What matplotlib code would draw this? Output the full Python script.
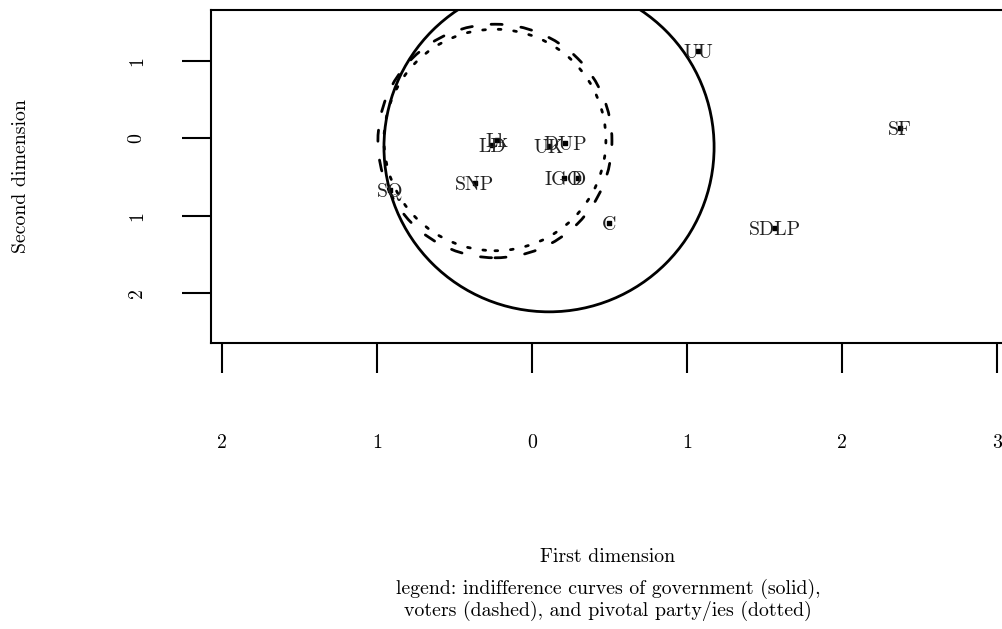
import numpy as np
import matplotlib
matplotlib.use("Agg")
import matplotlib.pyplot as plt
import matplotlib.transforms as mtransforms
from matplotlib.patches import Ellipse

plt.rcParams['font.family'] = ['cmr10', 'DejaVu Serif']
plt.rcParams['axes.formatter.use_mathtext'] = True

# party positions (first dim, second dim)
parties = ['UU', 'SF', 'SDLP', 'SNP', 'SQ', 'C', 'UK', 'DUP', 'LD', 'Lk', 'IGO', 'D']
dim1 = [1.071, 2.374, 1.568, -0.368, -0.916, 0.497, 0.110, 0.213, -0.258, -0.226, 0.206, 0.297]
dim2 = [1.129, 0.133, -1.160, -0.578, -0.669, -1.095, -0.100, -0.061, -0.087, -0.022, -0.514, -0.514]

# indifference curves: centre and radius (first-dimension units)
curve_names = ['government', 'voters', 'pivotal']
curve_cx = [0.110, -0.239, -0.239]
curve_cy = [-0.114, -0.035, -0.022]
curve_r = [1.065, 0.755, 0.716]
curve_style = ['-', (0, (4.0, 6.8)), (0, (1, 4.6))]

xticks = [-2, -1, 0, 1, 2, 3]
xticklabels = ['2', '1', '0', '1', '2', '3']
yticks = [1, 0, -1, -2]
yticklabels = ['1', '0', '1', '2']

W, H = 1002, 629
fig = plt.figure(figsize=(W / 100, H / 100), dpi=100)
ax = fig.add_axes([211 / W, 1 - 343 / H, (1005 - 211) / W, (343 - 10) / H])
ax.set_xlim(-2.071, 3.052)
ax.set_ylim(-2.647, 1.659)

yx = 2.0  # second-dimension unit is half as long on the page
for cx, cy, r, ls in zip(curve_cx, curve_cy, curve_r, curve_style):
    e = Ellipse((cx, cy), 2 * r, 2 * r * yx, fill=False, color='black',
                lw=2.0, linestyle=ls)
    if ls != '-':
        e.set_capstyle('round')
    ax.add_patch(e)

ax.scatter(dim1, dim2, marker='s', s=9, color='black', zorder=3)
down = mtransforms.ScaledTranslation(0, -1.5 / 72, fig.dpi_scale_trans)
for lab, x, y in zip(parties, dim1, dim2):
    ax.text(x, y, lab, ha='center', va='center', fontsize=14.3, color='#222222',
            transform=ax.transData + down)

ax.set_xticks(xticks)
ax.set_xticklabels(xticklabels, fontsize=14.3)
ax.set_yticks(yticks)
ax.set_yticklabels(yticklabels, fontsize=14.3, rotation=90, va='center')
ax.tick_params(axis='x', direction='out', length=21.6, width=1.5, pad=44)
ax.tick_params(axis='y', direction='out', length=21, width=1.5, pad=26)
for s in ax.spines.values():
    s.set_linewidth(1.5)

fig.text(21 / W, 1 - 176 / H, 'Second dimension', rotation=90, ha='center',
         va='center', fontsize=14.3)
fig.text(608 / W, 1 - 557 / H, 'First dimension', ha='center', va='center',
         fontsize=14.3)
fig.text(608 / W, 1 - 589 / H, 'legend: indifference curves of government (solid),',
         ha='center', va='center', fontsize=14.3)
fig.text(608 / W, 1 - 611 / H, 'voters (dashed), and pivotal party/ies (dotted)',
         ha='center', va='center', fontsize=14.3)

fig.savefig('out.png', dpi=100)
